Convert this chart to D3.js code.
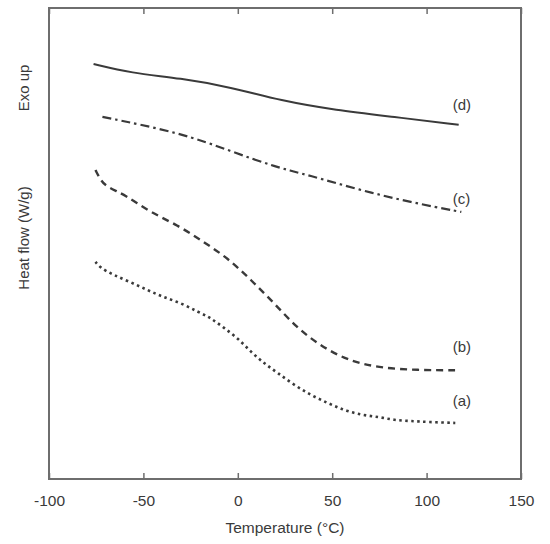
<!DOCTYPE html>
<html>
<head>
<meta charset="utf-8">
<script src="https://cdn.jsdelivr.net/npm/d3@7"></script>
<style>
  body { margin: 0; background: #fff; }
  text { font-family: "Liberation Sans", Arial, sans-serif; }
</style>
</head>
<body>
<div id="chart" style="width:550px;height:544px"></div>
<script>
// DSC traces, heat flow in arbitrary units (0 bottom .. 100 top of frame)
var tempA = [-75.4, -72.7, -65.8, -56.8, -47.8, -39.3, -30.3, -21.2, -14.3, -7.4, 0, 6.9, 13.8, 21.2, 29.7, 38.7, 47.8, 56.3, 65.3, 74.3, 82.8, 91.8, 100.8, 115.2];
var flowA = [46.1, 44.8, 43.3, 41.8, 40.1, 38.6, 37.4, 35.5, 34.2, 32.1, 29.9, 27.0, 24.6, 22.5, 20.0, 17.8, 16.1, 14.6, 13.6, 13.2, 12.5, 12.3, 12.1, 11.9];

var tempB = [-75.4, -72.7, -69.5, -59.4, -46.7, -31.8, -18, -5.3, 6.9, 19.1, 30.8, 43, 57.3, 74.3, 95.5, 115.7];
var flowB = [65.6, 63.5, 62.0, 60.3, 56.7, 53.9, 50.3, 46.9, 42.3, 37.4, 32.3, 28.5, 25.3, 23.6, 23.1, 23.1];

var tempC = [-71.7, -30.3, -3.7, 20.2, 37.7, 64.2, 90.8, 118.4];
var flowC = [76.9, 73.5, 69.6, 66.2, 64.5, 61.4, 58.8, 56.7];

var tempD = [-76.4, -56.8, -30.3, -3.7, 22.8, 52, 82.3, 117];
var flowD = [88.1, 86.2, 85.1, 83.2, 80.3, 78.3, 76.9, 75.2];

var seriesNames = ["(a)", "(b)", "(c)", "(d)"];
var labelTemp = [118.7, 118.7, 118.5, 118.7];
var labelFlow = [16.6, 28.0, 59.4, 79.4];

var xTicks = [-100, -50, 0, 50, 100, 150];

function drawChart() {
  var container = d3.select("#chart");
  var width = 550, height = 544;
  var svg = container.append("svg")
    .attr("width", width)
    .attr("height", height);

  var x0 = 49, x1 = 521, y0 = 8, y1 = 479;
  var x = d3.scaleLinear().domain([-100, 150]).range([x0, x1]);
  var y = d3.scaleLinear().domain([0, 100]).range([y1, y0]);

  var axisColor = "#6e6e6e";
  var textColor = "#3a3a3a";

  // frame
  svg.append("rect")
    .attr("x", x0).attr("y", y0)
    .attr("width", x1 - x0).attr("height", y1 - y0)
    .attr("fill", "none")
    .attr("stroke", axisColor)
    .attr("stroke-width", 2);

  var bx = svg.append("g")
    .attr("transform", "translate(0," + y1 + ")")
    .call(d3.axisBottom(x).tickValues(xTicks).tickSizeInner(-6).tickSizeOuter(0)
      .tickPadding(16).tickFormat(d => String(d)));
  bx.select(".domain").remove();
  bx.selectAll("line").attr("stroke", axisColor).attr("stroke-width", 1.5);
  bx.selectAll("text").attr("fill", textColor).attr("font-size", 15.5);

  var tx = svg.append("g")
    .attr("transform", "translate(0," + y0 + ")")
    .call(d3.axisTop(x).tickValues(xTicks).tickSizeInner(-6).tickSizeOuter(0).tickFormat(""));
  tx.select(".domain").remove();
  tx.selectAll("line").attr("stroke", axisColor).attr("stroke-width", 1.5);

  // curves
  var line = d3.line()
    .x(d => x(d[0]))
    .y(d => y(d[1]))
    .curve(d3.curveBasis);

  var series = [
    { t: tempA, v: flowA, dash: "2.5,3.5", w: 2.6 },
    { t: tempB, v: flowB, dash: "7,5", w: 2.4 },
    { t: tempC, v: flowC, dash: "9,4,2.5,4", w: 2.2 },
    { t: tempD, v: flowD, dash: null, w: 2 }
  ];

  svg.append("g").selectAll("path")
    .data(series)
    .enter()
    .append("path")
    .attr("d", s => line(d3.zip(s.t, s.v)))
    .attr("fill", "none")
    .attr("stroke", "#3a3a3a")
    .attr("stroke-width", s => s.w)
    .attr("stroke-dasharray", s => s.dash);

  svg.append("g").selectAll("text")
    .data(seriesNames)
    .enter()
    .append("text")
    .attr("x", (d, i) => x(labelTemp[i]))
    .attr("y", (d, i) => y(labelFlow[i]))
    .attr("dy", "0.35em")
    .attr("text-anchor", "middle")
    .attr("font-size", 15)
    .attr("fill", textColor)
    .text(d => d);

  // axis titles
  svg.append("text")
    .attr("x", (x0 + x1) / 2)
    .attr("y", 533)
    .attr("text-anchor", "middle")
    .attr("font-size", 15.5)
    .attr("fill", textColor)
    .text("Temperature (°C)");

  svg.append("text")
    .attr("transform", "translate(29,88) rotate(-90)")
    .attr("text-anchor", "middle")
    .attr("font-size", 15)
    .attr("fill", textColor)
    .text("Exo up");

  svg.append("text")
    .attr("transform", "translate(29,238) rotate(-90)")
    .attr("text-anchor", "middle")
    .attr("font-size", 15)
    .attr("fill", textColor)
    .text("Heat flow (W/g)");
}

drawChart();
</script>
</body>
</html>
